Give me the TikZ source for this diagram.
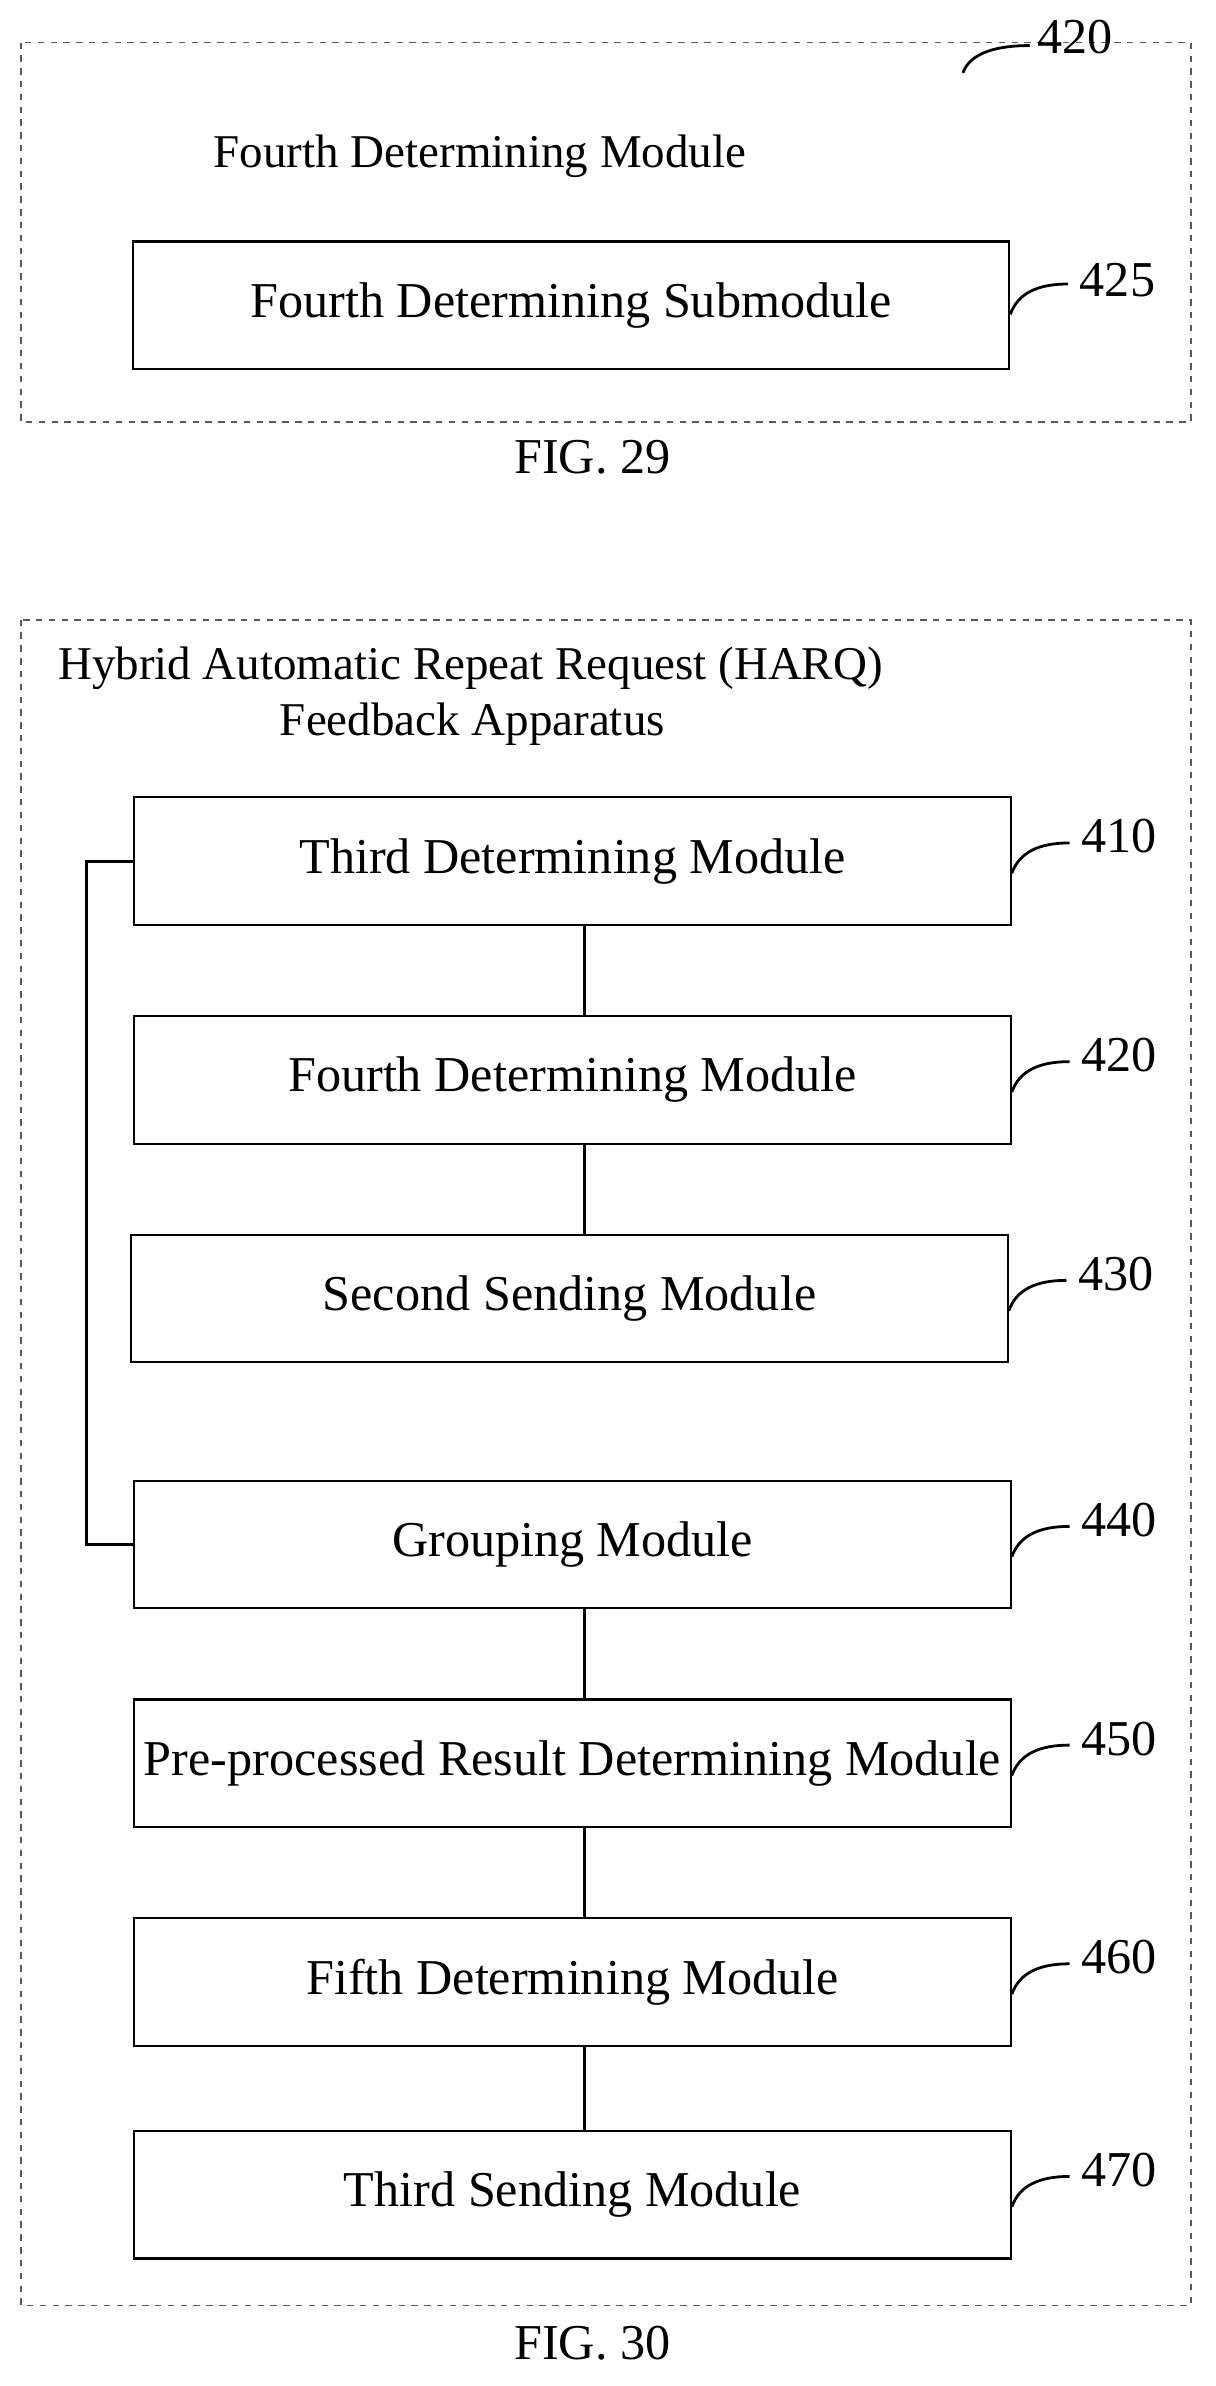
\documentclass[tikz,border=0pt]{standalone}
\usepackage{fontspec}
\setmainfont{Liberation Serif}
\usetikzlibrary{positioning}
\tikzset{
  module/.style={draw, line width=1pt, minimum width=577*0.025cm, minimum height=84*0.025cm, inner sep=0pt},
  frame/.style={draw, dashed, gray!70!black, thick},
  lead/.style={line width=1.3pt},
  heading/.style={font=\fontsize{22}{26}\selectfont},
}
\begin{document}
\begin{tikzpicture}[x=0.025cm, y=-0.025cm, font=\fontsize{23.5}{28}\selectfont]
\useasboundingbox (0,0) rectangle (800,1571);
% FIG. 29
\draw [frame] (14,28) rectangle (784,278);
\node [heading] (title29) at (316,103) {Fourth Determining Module};
\node [module] (sub425) at (376,201) {Fourth Determining Submodule};
\draw [lead] ([yshift=-6*0.025cm]sub425.east) .. controls +(5,-14) and +(-20,0) .. ++(38,-20) coordinate (c425);
\node [right=2pt of c425, yshift=2pt] {425};
\coordinate (c420a) at (634,48);
\draw [lead] (c420a) .. controls +(5,-14) and +(-20,0) .. ++(44,-18) coordinate (c420b);
\node [right=0pt of c420b, yshift=4pt] {420};
\node (fig29) at (390,301) {FIG. 29};
% FIG. 30
\draw [frame] (14,408) rectangle (784,1518);
\node [heading, anchor=west, inner sep=0pt] (title30a) at (38,440) {Hybrid Automatic Repeat Request (HARQ)};
\node [heading, anchor=west, inner sep=0pt] (title30b) at (184,477) {Feedback Apparatus};
\node [module] (m410) at (377,567) {Third Determining Module};
\node [module] (m420) at (377,711) {Fourth Determining Module};
\node [module] (m430) at (375,855) {Second Sending Module};
\node [module] (m440) at (377,1017) {Grouping Module};
\node [module] (m450) at (377,1161) {Pre-processed Result Determining Module};
\node [module] (m460) at (377,1305) {Fifth Determining Module};
\node [module] (m470) at (377,1445) {Third Sending Module};
\foreach \a/\b in {m410/m420, m420/m430, m440/m450, m450/m460, m460/m470}
  \draw [line width=1.3pt] (\a.south -| 385,0) -- (\b.north -| 385,0);
\draw [line width=1.3pt] (m410.west) -- ++(-31,0) |- (m440.west);
\foreach \m/\n in {m410/410, m420/420, m430/430, m440/440, m450/450, m460/460, m470/470} {
  \draw [lead] ([yshift=-8*0.025cm]\m.east) .. controls +(5,-14) and +(-20,0) .. ++(38,-20) coordinate (c\n);
  \node [right=2pt of c\n, yshift=3pt] {\n};
}
\node (fig30) at (390,1543) {FIG. 30};
\end{tikzpicture}
\end{document}
